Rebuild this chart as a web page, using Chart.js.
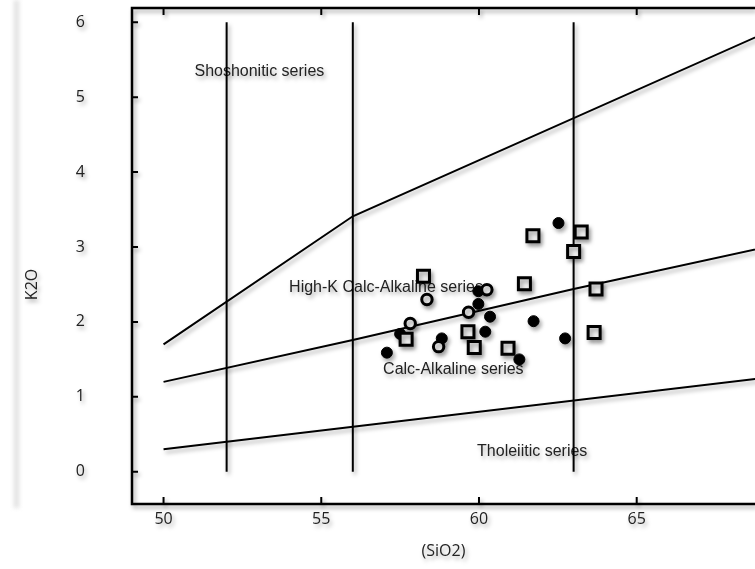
<!DOCTYPE html>
<html>
<head>
<meta charset="utf-8">
<script src="https://cdn.jsdelivr.net/npm/chart.js@4.4.0/dist/chart.umd.min.js"></script>
<style>
  body { margin: 0; background: #fff; }
  #wrap { position: relative; width: 755px; height: 569px; }
  #edge { position: absolute; left: 14px; top: 0; width: 5px; height: 508px; background: #e0e0e0; filter: blur(2px); }
  #chart { position: relative; }
</style>
</head>
<body>
<div id="wrap"><div id="edge"></div><canvas id="chart"></canvas></div>
<script>
// axis ticks
const xTicks = [50, 55, 60, 65];
const yTicks = [0, 1, 2, 3, 4, 5, 6];

// series boundaries (SiO2 vs K2O)
const lowerX = [50, 70];
const lowerY = [0.3, 1.3];
const middleX = [50, 56, 63, 70];
const middleY = [1.2, 1.76, 2.44, 3.08];
const upperX = [50, 56, 70];
const upperY = [1.7, 3.41, 6.03];
const dividerX = [52, 56, 63];
const dividerY = [0, 6];

// samples
const filledX = [59.98, 59.98, 60.35, 60.2, 57.5, 58.82, 57.08, 61.28, 61.73, 62.73, 62.52];
const filledY = [2.41, 2.24, 2.07, 1.87, 1.84, 1.78, 1.59, 1.50, 2.01, 1.78, 3.32];
const openX = [58.35, 60.25, 59.67, 57.82, 58.72];
const openY = [2.30, 2.43, 2.13, 1.98, 1.67];
const squareX = [58.24, 59.65, 59.85, 60.92, 57.69, 61.71, 63.24, 63.0, 61.44, 63.71, 63.65];
const squareY = [2.61, 1.87, 1.66, 1.65, 1.77, 3.15, 3.20, 2.94, 2.51, 2.44, 1.86];

// field names
const fieldNames = ['Shoshonitic series', 'High-K Calc-Alkaline series', 'Calc-Alkaline series', 'Tholeiitic series'];
const fieldX = [50.98, 53.98, 56.96, 59.94];
const fieldY = [5.34, 2.46, 1.36, 0.27];

const xTitle = '(SiO2)';
const yTitle = 'K2O';

function pts(xs, ys) {
	return xs.map((x, i) => ({ x: x, y: ys[i] }));
}

function lineSet(data) {
	return {
		data: data, showLine: true, borderColor: '#000', borderWidth: 2,
		pointRadius: 0, fill: false, tension: 0, order: 10
	};
}

const datasets = [
	lineSet(pts(lowerX, lowerY)),
	lineSet(pts(middleX, middleY)),
	lineSet(pts(upperX, upperY))
];
dividerX.forEach(v => {
	datasets.push(lineSet(dividerY.map(y => ({ x: v, y: y }))));
});
datasets.push({
	data: pts(filledX, filledY), pointStyle: 'circle', pointRadius: 5.5,
	backgroundColor: '#000', borderColor: '#000', borderWidth: 1, order: 3
});
datasets.push({
	data: pts(openX, openY), pointStyle: 'circle', pointRadius: 5.2,
	backgroundColor: '#f4f4f4', borderColor: '#000', borderWidth: 3, order: 2
});
datasets.push({
	data: pts(squareX, squareY), pointStyle: 'rect', pointRadius: 8.5,
	backgroundColor: '#f0f0f0', borderColor: '#000', borderWidth: 3, order: 1
});

const tickFont = { family: '"Open Sans", sans-serif', size: 16 };

const looks = {
	id: 'looks',
	beforeDraw(chart) {
		const ctx = chart.ctx;
		ctx.shadowColor = 'rgba(0,0,0,0.35)';
		ctx.shadowBlur = 4;
		ctx.shadowOffsetX = 2;
		ctx.shadowOffsetY = 3;
	},
	beforeDatasetsDraw(chart) {
		// field names sit under the lines and markers
		const { ctx, scales: { x, y } } = chart;
		ctx.save();
		ctx.font = '16px "Liberation Sans", Arial, sans-serif';
		ctx.fillStyle = '#222';
		ctx.textAlign = 'left';
		ctx.textBaseline = 'middle';
		fieldNames.forEach((t, i) => {
			ctx.fillText(t, x.getPixelForValue(fieldX[i]), y.getPixelForValue(fieldY[i]));
		});
		ctx.restore();
	},
	afterDraw(chart) {
		const { ctx, chartArea: a, scales: { x, y } } = chart;
		ctx.save();
		ctx.strokeStyle = '#000';
		ctx.lineWidth = 2.5;
		ctx.beginPath();
		ctx.moveTo(a.right, a.top);
		ctx.lineTo(a.left, a.top);
		ctx.lineTo(a.left, a.bottom);
		ctx.lineTo(a.right, a.bottom);
		ctx.stroke();
		// inward tick marks
		ctx.lineWidth = 2;
		ctx.beginPath();
		xTicks.forEach(v => {
			const p = x.getPixelForValue(v);
			ctx.moveTo(p, a.bottom); ctx.lineTo(p, a.bottom - 7);
			ctx.moveTo(p, a.top); ctx.lineTo(p, a.top + 7);
		});
		yTicks.forEach(v => {
			const p = y.getPixelForValue(v);
			ctx.moveTo(a.left, p); ctx.lineTo(a.left + 6, p);
		});
		ctx.stroke();
		// y title sits a bit below the middle in the original
		ctx.font = '16px "Open Sans", sans-serif';
		ctx.fillStyle = '#222';
		ctx.textAlign = 'center';
		ctx.textBaseline = 'middle';
		ctx.translate(32, y.getPixelForValue(2.5));
		ctx.rotate(-Math.PI / 2);
		ctx.fillText(yTitle, 0, 0);
		ctx.restore();
		ctx.shadowColor = 'rgba(0,0,0,0)';
		ctx.shadowBlur = 0;
		ctx.shadowOffsetX = 0;
		ctx.shadowOffsetY = 0;
	}
};

new Chart(document.getElementById('chart'), {
	type: 'scatter',
	data: { datasets: datasets },
	options: {
		responsive: true,
		maintainAspectRatio: false,
		animation: false,
		events: [],
		layout: { autoPadding: false, padding: { top: 8, left: 0, right: 0, bottom: 0 } },
		plugins: { legend: { display: false }, tooltip: { enabled: false } },
		scales: {
			x: {
				type: 'linear', position: 'bottom', min: 49, max: 68.75,
				grid: { display: false, drawTicks: false },
				border: { display: false },
				afterBuildTicks: s => { s.ticks = xTicks.map(v => ({ value: v })); },
				afterFit: s => { s.height = 65; s.paddingLeft = 0; s.paddingRight = 0; },
				ticks: { padding: 6, font: tickFont, color: '#222', maxRotation: 0 },
				title: { display: true, text: xTitle, font: tickFont, color: '#222', padding: { top: 0, bottom: 8 } }
			},
			y: {
				type: 'linear', position: 'left', min: -0.43, max: 6.19,
				grid: { display: false, drawTicks: false },
				border: { display: false },
				afterBuildTicks: s => { s.ticks = yTicks.map(v => ({ value: v })); },
				afterFit: s => { s.width = 132; s.paddingTop = 0; s.paddingBottom = 0; },
				ticks: { padding: 47, font: tickFont, color: '#222' },
				title: { display: false }
			}
		}
	},
	plugins: [looks]
});
</script>
</body>
</html>
